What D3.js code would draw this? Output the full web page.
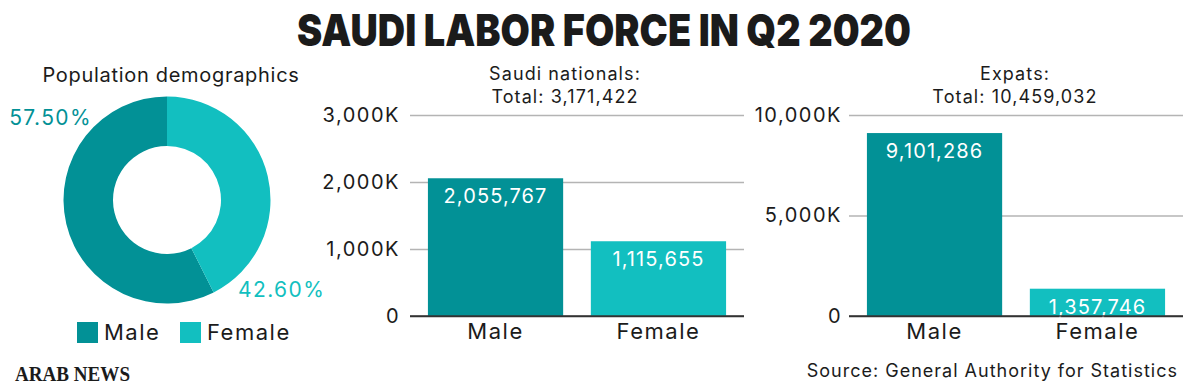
<!DOCTYPE html>
<html>
<head>
<meta charset="utf-8">
<script src="https://cdn.jsdelivr.net/npm/d3@7"></script>
<style>
    body { margin: 0; background: #fff; }
    svg { display: block; font-family: Inter, "Noto Sans", sans-serif; }
</style>
</head>
<body>
<div id="chart"></div>
<script>
"use strict"

// --- data ---
const genders = ["Male", "Female"]
const demographicShares = [57.5, 42.6]          // percent
const saudiValues = [2055767, 1115655]
const expatValues = [9101286, 1357746]
const saudiTicks = [0, 1000000, 2000000, 3000000]
const expatTicks = [0, 5000000, 10000000]
const saudiTitle = ["Saudi nationals:", "Total: 3,171,422"]
const expatTitle = ["Expats:", "Total: 10,459,032"]

const colors = { Male: "#029196", Female: "#12bfc0" }
const ink = "#1b1b1b"

const size = { width: 1200, height: 389 }
const svg = d3.select("#chart")
    .append("svg")
    .attr("width", size.width)
    .attr("height", size.height)
    .attr("viewBox", `0 0 ${size.width} ${size.height}`)

// the reference face is a wide grotesk, so widen Inter a bit with tracking
const label = (sel, fontSize, spacing) => sel
    .attr("font-size", fontSize)
    .attr("letter-spacing", spacing)

// title
svg.append("text")
    .attr("x", 604).attr("y", 46)
    .attr("text-anchor", "middle")
    .attr("font-size", 44)
    .attr("font-weight", 900)
    .attr("textLength", 614)
    .attr("lengthAdjust", "spacingAndGlyphs")
    .attr("fill", ink)
    .text("SAUDI LABOR FORCE IN Q2 2020")

/**
 * Donut of population demographics.
 */
function drawDonut() {
    const cx = 167, cy = 200
    const g = svg.append("g").attr("transform", `translate(${cx},${cy})`)

    svg.append("text")
        .attr("x", 171).attr("y", 82)
        .attr("text-anchor", "middle")
        .attr("fill", ink)
        .call(label, 20, 0.7)
        .text("Population demographics")

    const slices = genders.map((k, i) => ({ key: k, value: demographicShares[i] }))
    // male runs counter-clockwise from 12 o'clock, female fills the rest
    const pie = d3.pie().sort(null).value(d => d.value)
        .startAngle(0).endAngle(-2 * Math.PI)
    const arc = d3.arc().innerRadius(54).outerRadius(103.5)

    g.selectAll("path")
        .data(pie(slices))
        .enter()
        .append("path")
        .attr("d", arc)
        .attr("fill", d => colors[d.data.key])

    g.append("text")
        .attr("x", -75).attr("y", -75)
        .attr("text-anchor", "end")
        .attr("fill", colors.Male)
        .call(label, 21, 1.4)
        .text(d3.format(".2f")(demographicShares[0]) + "%")
    g.append("text")
        .attr("x", 71).attr("y", 97)
        .attr("fill", colors.Female)
        .call(label, 21, 1.4)
        .text(d3.format(".2f")(demographicShares[1]) + "%")

    // legend
    const legendX = [77, 180]
    genders.forEach((k, i) => {
        svg.append("rect")
            .attr("x", legendX[i]).attr("y", 322)
            .attr("width", 21).attr("height", 21)
            .attr("fill", colors[k])
        svg.append("text")
            .attr("x", legendX[i] + 27).attr("y", 340)
            .attr("fill", ink)
            .call(label, 22, 1.5)
            .text(k)
    })
}

const tickFormat = v => v === 0 ? "0" : d3.format(",")(v / 1000) + "K"

/**
 * Bar chart with gridlines.
 * @param {Array.<number>} values - Values in genders order.
 * @param {Array.<number>} ticks - Gridline values.
 * @param {Object} opt - Placement.
 */
function drawBars(values, ticks, opt) {
    const x = d3.scaleBand()
        .domain(genders)
        .range([opt.left, opt.right])
        .paddingInner(0.17)
        .paddingOuter(0.11)
    const y = d3.scaleLinear()
        .domain([0, d3.max(ticks)])
        .range([316, 115])

    const g = svg.append("g")

    const grid = g.append("g")
        .attr("transform", `translate(${opt.left},0)`)
        .call(d3.axisLeft(y).tickValues(ticks).tickFormat(tickFormat)
            .tickSize(-(opt.right - opt.left)).tickPadding(opt.labelGap))
    grid.select(".domain").remove()
    grid.selectAll(".tick line")
        .attr("stroke", d => d === 0 ? "#333" : "#b4b4b4")
        .attr("stroke-width", 1.5)
    grid.selectAll(".tick text")
        .attr("font-family", "Inter, sans-serif")
        .attr("fill", ink)
        .call(label, 20, 1.5)

    const bars = g.selectAll(".bar")
        .data(genders.map((k, i) => ({ key: k, value: values[i] })))
        .enter()
        .append("g")
        .classed("bar", true)
    bars.append("rect")
        .attr("x", d => x(d.key))
        .attr("y", d => y(d.value))
        .attr("width", x.bandwidth())
        .attr("height", d => y(0) - y(d.value))
        .attr("fill", d => colors[d.key])
    bars.append("text")
        .attr("x", d => x(d.key) + x.bandwidth() / 2)
        .attr("y", d => y(d.value) + 25)
        .attr("text-anchor", "middle")
        .attr("fill", "#fff")
        .call(label, 20, 1.1)
        .text(d => d3.format(",")(d.value))

    // redraw baseline over the bars
    g.append("line")
        .attr("x1", opt.left).attr("x2", opt.right)
        .attr("y1", y(0)).attr("y2", y(0))
        .attr("stroke", "#333").attr("stroke-width", 1.5)

    bars.append("text")
        .attr("x", d => x(d.key) + x.bandwidth() / 2)
        .attr("y", 339)
        .attr("text-anchor", "middle")
        .attr("fill", ink)
        .call(label, 22, 1.5)
        .text(d => d.key)

    // two-line heading
    opt.title.forEach((line, i) => {
        g.append("text")
            .attr("x", opt.titleX).attr("y", 80 + i * 22.5)
            .attr("text-anchor", "middle")
            .attr("fill", ink)
            .call(label, 18, 1.1)
            .text(line)
    })
}

drawDonut()
drawBars(saudiValues, saudiTicks, { left: 410, right: 744, labelGap: 10, title: saudiTitle, titleX: 565 })
drawBars(expatValues, expatTicks, { left: 849, right: 1183, labelGap: 7, title: expatTitle, titleX: 1015 })

// footer
svg.append("text")
    .attr("x", 15).attr("y", 381)
    .attr("font-family", "'Liberation Serif', serif")
    .attr("font-weight", 700)
    .attr("font-size", 22)
    .attr("textLength", 115)
    .attr("lengthAdjust", "spacingAndGlyphs")
    .attr("fill", ink)
    .text("ARAB NEWS")
svg.append("text")
    .attr("x", 1178).attr("y", 377)
    .attr("text-anchor", "end")
    .attr("fill", ink)
    .call(label, 18, 1)
    .text("Source: General Authority for Statistics")
</script>
</body>
</html>
